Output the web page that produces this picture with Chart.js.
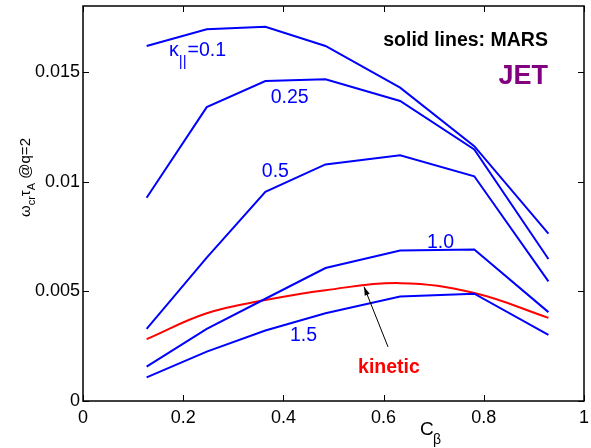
<!DOCTYPE html>
<html>
<head>
<meta charset="utf-8">
<script src="https://cdn.jsdelivr.net/npm/chart.js@4.4.0/dist/chart.umd.min.js"></script>
<style>
  html, body { margin: 0; padding: 0; background: #fff; }
  #wrap { width: 591px; height: 448px; }
</style>
</head>
<body>
<div id="wrap"><canvas id="mycanvas" width="591" height="448"></canvas></div>
<script>
// C_beta values where MARS was run
var cBeta = [0.127, 0.247, 0.364, 0.484, 0.633, 0.781, 0.929];

// growth rate omega_cr*tau_A at q=2, one list per kappa_parallel
var kappa01  = [0.01618, 0.01694, 0.01705, 0.01618, 0.01428, 0.01161, 0.00763];
var kappa025 = [0.00926, 0.01339, 0.01458, 0.01466, 0.01367, 0.01146, 0.00647];
var kappa05  = [0.00329, 0.00653, 0.00953, 0.01078, 0.01120, 0.01024, 0.00545];
var kappa10  = [0.00157, 0.00329, 0.00466, 0.00606, 0.00686, 0.00690, 0.00405];
var kappa15  = [0.00108, 0.00225, 0.00321, 0.00400, 0.00476, 0.00489, 0.00301];
var kinetic  = [0.00282, 0.00400, 0.00460, 0.00505, 0.00537, 0.00492, 0.00379];

var xTicks = [0, 0.2, 0.4, 0.6, 0.8, 1];
var yTicks = [0, 0.005, 0.01, 0.015];

function pts(ys) {
    var out = [];
    for (var i in cBeta) {
        out.push({x: cBeta[i], y: ys[i]});
    }
    return out;
}

var FONT = '"Liberation Sans", Arial, Helvetica, sans-serif';

// text placed in data coordinates
var labels = [
    {x: 0.3747, y: 0.01356, text: '0.25', color: '#0000ff'},
    {x: 0.357,  y: 0.01023, text: '0.5',  color: '#0000ff'},
    {x: 0.6866, y: 0.00699, text: '1.0',  color: '#0000ff'},
    {x: 0.413,  y: 0.00274, text: '1.5',  color: '#0000ff'},
    {x: 0.549,  y: 0.00128, text: 'kinetic', color: '#ff0000', bold: true},
    {x: 0.928,  y: 0.01619, text: 'solid lines: MARS', color: '#000000', bold: true, align: 'right'},
    {x: 0.928,  y: 0.01443, text: 'JET', color: '#800080', bold: true, align: 'right', size: 27}
];

var decor = {
    id: 'decor',
    afterDraw: function(chart) {
        var ctx = chart.ctx;
        var xs = chart.scales.x, ys = chart.scales.y;
        var a = chart.chartArea;
        ctx.save();

        // box
        ctx.strokeStyle = '#000';
        ctx.lineWidth = 1.5;
        ctx.strokeRect(a.left, a.top, a.right - a.left, a.bottom - a.top);

        // inward ticks on all four sides
        ctx.lineWidth = 1;
        ctx.beginPath();
        xTicks.forEach(function(v) {
            var px = Math.round(xs.getPixelForValue(v)) + 0.5;
            ctx.moveTo(px, a.bottom); ctx.lineTo(px, a.bottom - 6);
            ctx.moveTo(px, a.top); ctx.lineTo(px, a.top + 6);
        });
        yTicks.forEach(function(v) {
            var py = Math.round(ys.getPixelForValue(v)) + 0.5;
            ctx.moveTo(a.left, py); ctx.lineTo(a.left + 6, py);
            ctx.moveTo(a.right, py); ctx.lineTo(a.right - 6, py);
        });
        ctx.stroke();

        // plain labels
        ctx.textBaseline = 'alphabetic';
        labels.forEach(function(l) {
            ctx.font = (l.bold ? 'bold ' : '') + (l.size || 19.5) + 'px ' + FONT;
            ctx.fillStyle = l.color;
            ctx.textAlign = l.align || 'left';
            ctx.fillText(l.text, xs.getPixelForValue(l.x), ys.getPixelForValue(l.y));
        });

        // kappa_|| = 0.1
        ctx.textAlign = 'left';
        ctx.fillStyle = '#0000ff';
        var kx = xs.getPixelForValue(0.1717), ky = ys.getPixelForValue(0.01571);
        ctx.font = '19.5px ' + FONT;
        ctx.fillText('\u03ba', kx, ky);
        kx += ctx.measureText('\u03ba').width;
        ctx.font = '15px ' + FONT;
        ctx.fillText('||', kx, ky + 10);
        kx += ctx.measureText('||').width + 1;
        ctx.font = '19.5px ' + FONT;
        ctx.fillText('=0.1', kx, ky);

        // arrow to the kinetic curve
        var x0 = xs.getPixelForValue(0.6088), y0 = ys.getPixelForValue(0.002466);
        var x1 = xs.getPixelForValue(0.561),  y1 = ys.getPixelForValue(0.005205);
        var ang = Math.atan2(y1 - y0, x1 - x0);
        ctx.strokeStyle = '#000';
        ctx.lineWidth = 1;
        ctx.beginPath();
        ctx.moveTo(x0, y0); ctx.lineTo(x1, y1);
        ctx.stroke();
        ctx.fillStyle = '#000';
        ctx.beginPath();
        ctx.moveTo(x1, y1);
        ctx.lineTo(x1 - 9 * Math.cos(ang - 0.3), y1 - 9 * Math.sin(ang - 0.3));
        ctx.lineTo(x1 - 9 * Math.cos(ang + 0.3), y1 - 9 * Math.sin(ang + 0.3));
        ctx.closePath();
        ctx.fill();

        // x axis title C_beta
        ctx.fillStyle = '#000';
        ctx.font = '19px ' + FONT;
        ctx.fillText('C', 420, 435);
        ctx.font = '14px ' + FONT;
        ctx.fillText('\u03b2', 433, 444);

        // y axis title omega_cr tau_A @q=2
        ctx.translate(30, 217);
        ctx.rotate(-Math.PI / 2);
        var cx = 0;
        var parts = [
            {t: '\u03c9', s: 15, d: 0},
            {t: 'cr', s: 11, d: 5},
            {t: '\u03c4', s: 15, d: 0},
            {t: 'A', s: 11, d: 5},
            {t: ' @q=2', s: 15, d: 0}
        ];
        parts.forEach(function(p) {
            ctx.font = p.s + 'px ' + FONT;
            ctx.fillText(p.t, cx, p.d);
            cx += ctx.measureText(p.t).width;
        });
        ctx.restore();
    }
};

function blue(ys) {
    return {
        data: pts(ys),
        borderColor: '#0000ff',
        borderWidth: 2,
        pointRadius: 0,
        tension: 0,
        fill: false
    };
}

var chartdata = {
    datasets: [
        blue(kappa01),
        blue(kappa025),
        blue(kappa05),
        blue(kappa10),
        blue(kappa15),
        {
            data: pts(kinetic),
            borderColor: '#ff0000',
            borderWidth: 2,
            pointRadius: 0,
            tension: 0.4,
            fill: false
        }
    ]
};

var ctx = document.getElementById('mycanvas');
var graph = new Chart(ctx, {
    type: 'line',
    data: chartdata,
    plugins: [decor],
    options: {
        responsive: false,
        animation: false,
        layout: { padding: { left: 0, right: 7, top: 6, bottom: 0 } },
        plugins: { legend: { display: false }, tooltip: { enabled: false } },
        scales: {
            x: {
                type: 'linear',
                min: 0,
                max: 1,
                grid: { display: false, drawTicks: false },
                border: { display: false },
                afterBuildTicks: function(scale) {
                    scale.ticks = xTicks.map(function(v) { return {value: v}; });
                },
                afterFit: function(scale) {
                    scale.height = 47;
                    scale.paddingLeft = 0;
                    scale.paddingRight = 0;
                },
                ticks: {
                    padding: 6,
                    maxRotation: 0,
                    color: '#000',
                    font: { family: FONT, size: 18 },
                    callback: function(v) { return String(+v.toFixed(1)); }
                }
            },
            y: {
                min: 0,
                max: 0.018,
                grid: { display: false, drawTicks: false },
                border: { display: false },
                afterBuildTicks: function(scale) {
                    scale.ticks = yTicks.map(function(v) { return {value: v}; });
                },
                afterFit: function(scale) {
                    scale.width = 83;
                    scale.paddingTop = 0;
                    scale.paddingBottom = 0;
                },
                ticks: {
                    padding: 3,
                    color: '#000',
                    font: { family: FONT, size: 18 },
                    callback: function(v) { return String(+v.toFixed(3)); }
                }
            }
        }
    }
});
</script>
</body>
</html>
